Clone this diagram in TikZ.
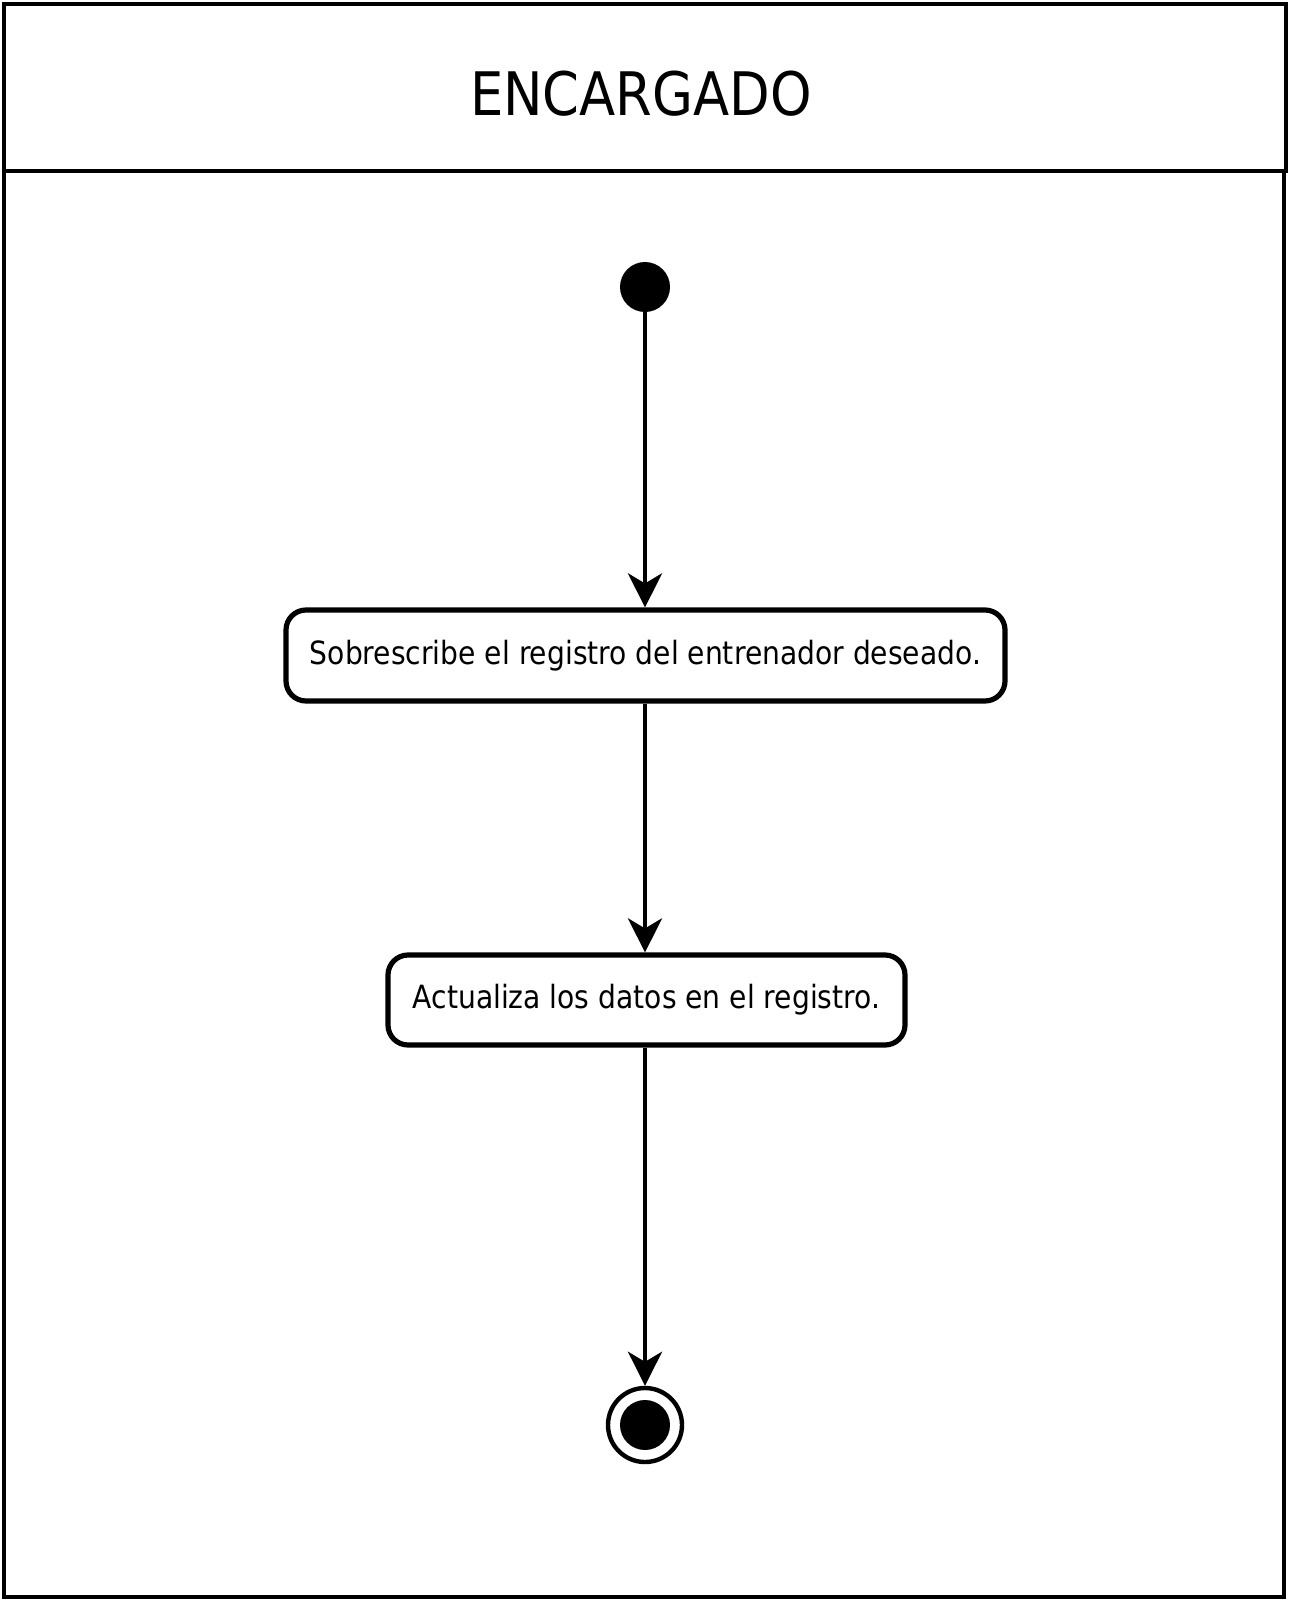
\documentclass[tikz,border=0pt]{standalone}
\usepackage{fontspec}
\setmainfont{DejaVu Sans}[FakeStretch=0.88]
\usetikzlibrary{arrows.meta}
\begin{document}
\begin{tikzpicture}[x=0.5pt,y=-0.5pt,
  lane/.style={draw, line width=2.2pt},
  title/.style={font=\fontsize{30}{34}\selectfont, inner sep=0pt},
  action/.style={draw, line width=2.6pt, rounded corners=10pt, fill=white,
    font=\fontsize{16}{19}\selectfont, inner sep=0pt},
  flow/.style={line width=2.2pt, -{Stealth[length=17pt,width=17pt,inset=5pt]}},
  startnode/.style={circle, fill=black, minimum size=25pt, inner sep=0pt},
  endring/.style={circle, draw, line width=2.2pt, minimum size=37pt, inner sep=0pt},
  enddot/.style={circle, fill=black, minimum size=25pt, inner sep=0pt}]
\useasboundingbox (0,0) rectangle (1290,1600);
\fill[white] (0,0) rectangle (1290,1600);
% swimlane
\draw[lane] (4,4) rectangle (1286,171);
\draw[lane] (4,171) rectangle (1284,1597);
\node[title] (head) at (641,94) {ENCARGADO};
% nodes
\node[startnode] (start) at (645,287) {};
\node[action, minimum width=359.5pt, minimum height=45.5pt] (a1) at (645.5,655.5)
  {Sobrescribe el registro del entrenador deseado.};
\node[action, minimum width=258.5pt, minimum height=45pt] (a2) at (646.5,1000)
  {Actualiza los datos en el registro.};
\node[endring] (endo) at (645,1425) {};
\node[enddot] (endi) at (645,1425) {};
% connectors
\draw[flow] (start.south) -- (start.south |- a1.north);
\draw[flow] (a1.south -| start) -- (start |- a2.north);
\draw[flow] (a2.south -| start) -- (endo.north);
\end{tikzpicture}
\end{document}
